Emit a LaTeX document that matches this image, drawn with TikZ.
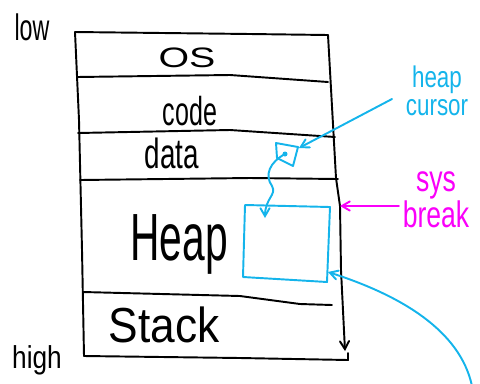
\documentclass[tikz,border=0pt]{standalone}
\usepackage{fontspec}
\setmainfont{Liberation Sans}
\usepackage{xcolor}
\usepackage{tikz}
\usetikzlibrary{arrows}
\usetikzlibrary{positioning}
\definecolor{penblue}{RGB}{20,180,235}
\definecolor{penpink}{RGB}{250,0,250}
\newcommand{\squeeze}[2]{\scalebox{#1}[1]{#2}}
\tikzstyle{pen} = [line width=1.1pt, line cap=round, line join=round]
\tikzstyle{seg} = [draw, pen, black]
\tikzstyle{line} = [draw, pen, -angle 60]
\tikzstyle{bluebox} = [draw, pen, penblue]
\tikzstyle{blueline} = [draw, pen, penblue, -angle 60]
\tikzstyle{pinkline} = [draw, pen, penpink, -angle 60]
\tikzstyle{word} = [inner sep=2pt, anchor=base]

\begin{document}
\begin{tikzpicture}[x=0.02cm, y=-0.02cm]
  \useasboundingbox (0,0) rectangle (480,383);

  % Place nodes
  \node [word, font=\fontsize{21}{21}\selectfont] (low) at (32,40) {\squeeze{0.63}{low}};
  \node [word, font=\fontsize{18}{18}\selectfont] (high) at (37,368) {\squeeze{0.83}{high}};

  \node [word, font=\fontsize{16}{16}\selectfont] (os) at (187,67) {\squeeze{1.4}{OS}};
  \node [word, font=\fontsize{23}{23}\selectfont] (code) at (190,125) {\squeeze{0.62}{code}};
  \node [word, font=\fontsize{24}{24}\selectfont] (data) at (172,168) {\squeeze{0.66}{data}};
  \node [word, font=\fontsize{38}{38}\selectfont] (heap) at (179,260) {\squeeze{0.61}{Heap}};
  \node [word, font=\fontsize{28}{28}\selectfont] (stack) at (164,342) {\squeeze{0.9}{Stack}};

  \node [inner sep=2pt, align=center, text=penblue, font=\fontsize{17}{16}\selectfont]
        (hc) at (437,91) {\squeeze{0.75}{heap}\\\squeeze{0.75}{cursor}};
  \node [inner sep=2pt, align=center, text=penpink, font=\fontsize{21}{17}\selectfont]
        (sb) at (436,200) {\squeeze{0.72}{sys}\\\squeeze{0.72}{break}};

  % Memory layout
  \path [seg] (75,32) -- (79,120) -- (82,250) -- (84,356);
  \path [seg] (75,32) -- (250,34) -- (328,35);
  \path [seg] (77,77) -- (230,75) -- (328,82);
  \path [seg] (78,133) -- (230,130) -- (335,137);
  \path [seg] (80,180) -- (250,178) -- (338,179);
  \path [seg] (83,292) -- (240,296) -- (300,304) -- (332,305);
  \path [seg] (84,356) -- (240,358) -- (348,360) -- (348,353);

  \coordinate (brk) at (340,206);
  \path [line] (328,35) -- (336,178) -- (brk) -- (341,270) -- (345,351);

  % Heap cursor and block
  \coordinate (sqtip) at (299,148);
  \coordinate (dot) at (285,154);
  \coordinate (blk) at (265,218);
  \coordinate (blkend) at (328,272);
  \coordinate (tail) at (472,386);

  \path [bluebox] (276,143) -- (298,147) -- (293,166) -- (277,158) -- cycle;
  \fill [penblue] (dot) circle (2.5);
  \path [bluebox] (245,205) -- (330,207) -- (327,282) -- (243,277) -- cycle;

  \path [blueline] ([xshift=-0.2cm, yshift=-0.16cm]hc.west) -- (sqtip);
  \path [blueline] (dot) .. controls (270,162) and (264,175) .. (272,186)
        .. controls (277,195) and (265,198) .. (blk);
  \path [blueline] (tail) .. controls (460,330) and (400,295) .. (blkend);

  \path [pinkline] (sb.west |- brk) -- (brk);

\end{tikzpicture}
\end{document}
